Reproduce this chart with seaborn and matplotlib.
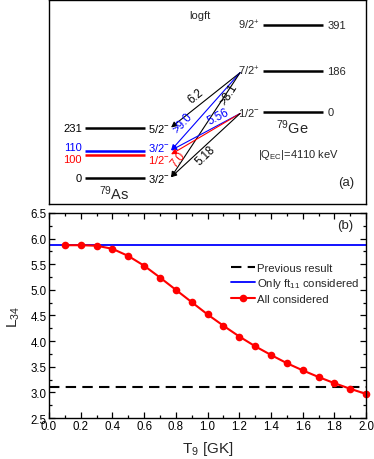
import matplotlib
matplotlib.use("Agg")
import matplotlib.pyplot as plt
from matplotlib.ticker import MultipleLocator
import pandas as pd
import seaborn as sns

# panel (b) data
t9 = [0.1, 0.2, 0.3, 0.4, 0.5, 0.6, 0.7, 0.8, 0.9, 1.0,
      1.1, 1.2, 1.3, 1.4, 1.5, 1.6, 1.7, 1.8, 1.9, 2.0]
l34_all = [5.87, 5.87, 5.86, 5.80, 5.66, 5.47, 5.24, 5.00, 4.76, 4.52,
           4.30, 4.09, 3.90, 3.73, 3.57, 3.43, 3.30, 3.18, 3.07, 2.97]
l34_ft11 = 5.87
l34_prev = 3.10

# panel (a) level scheme (79As daughter, 79Ge parent)
as_energy = [231, 110, 100, 0]
as_spin = [r"5/2$^{-}$", r"3/2$^{-}$", r"1/2$^{-}$", r"3/2$^{-}$"]
as_color = ["black", "blue", "red", "black"]
ge_energy = [391, 186, 0]
ge_spin = [r"9/2$^{+}$", r"7/2$^{+}$", r"1/2$^{-}$"]
# transitions: (parent energy, daughter energy, logft label, colour)
transitions = [
    (186, 231, "6.2", "black"),
    (186, 110, ">9.0", "blue"),
    (186, 0, ">8.1", "black"),
    (0, 110, "5.56", "blue"),
    (0, 100, "7.0", "red"),
    (0, 0, "5.18", "black"),
]

# schematic (not to scale) vertical placement of the levels, in panel pixels
as_ypos = {231: 129, 110: 152, 100: 156, 0: 179}
as_label_shift = {231: 0, 110: -4, 100: 4, 0: 0}
ge_ypos = {391: 25, 186: 71, 0: 112}

sns.set_style("ticks")
plt.rcParams["font.family"] = ["Liberation Sans", "DejaVu Sans"]
plt.rcParams["mathtext.fontset"] = "custom"
plt.rcParams["mathtext.rm"] = "Liberation Sans"
plt.rcParams["mathtext.it"] = "Liberation Sans"

fig = plt.figure(figsize=(3.74, 4.6), dpi=100)

# ---------- panel (a) ----------
ax1 = fig.add_axes([0.131, 0.554, 0.848, 0.444])
ax1.set_xlim(49, 366)
ax1.set_ylim(205, 0)
ax1.set_xticks([])
ax1.set_yticks([])
for s in ax1.spines.values():
    s.set_linewidth(1.0)
    s.set_color("black")

fs = 8
for e, sp, c in zip(as_energy, as_spin, as_color):
    y = as_ypos[e]
    ly = y + as_label_shift[e]
    ax1.plot([85, 145], [y, y], color=c, lw=1.8, solid_capstyle="butt")
    ax1.text(82, ly, str(e), ha="right", va="center", color=c, fontsize=fs)
    ax1.text(148, ly, sp, ha="left", va="center", color=c, fontsize=fs)
for e, sp in zip(ge_energy, ge_spin):
    y = ge_ypos[e]
    ax1.plot([263, 323], [y, y], color="black", lw=1.8, solid_capstyle="butt")
    ax1.text(260, y, sp, ha="right", va="center", fontsize=fs)
    ax1.text(327, y, str(e), ha="left", va="center", fontsize=fs)

label_pos = {
    "6.2": (196, 96, 39),
    ">9.0": (183, 123, 48),
    ">8.1": (229, 94, 58),
    "5.56": (218, 117, 27),
    "7.0": (178, 160, 50),
    "5.18": (205, 156, 44),
}
for pe, de, lab, c in transitions:
    y0 = ge_ypos[pe] + 2
    y1 = as_ypos[de] - 1
    ax1.annotate("", xy=(171, y1), xytext=(240, y0),
                 arrowprops=dict(arrowstyle="-|>", color=c, lw=0.8,
                                 mutation_scale=8, shrinkA=0, shrinkB=0))
    lx, ly, rot = label_pos[lab]
    ax1.text(lx, ly, lab, color=c, fontsize=8.3, rotation=rot,
             ha="center", va="center", rotation_mode="anchor")

ax1.text(200, 15, "logft", ha="center", va="center", fontsize=8)
ax1.text(292, 127, r"$^{79}$Ge", ha="center", va="center", fontsize=10.5)
ax1.text(114, 193, r"$^{79}$As", ha="center", va="center", fontsize=10.5)
ax1.text(298, 155, r"|Q$_{\rm EC}$|=4110 keV", ha="center", va="center", fontsize=8)
ax1.text(346, 183, "(a)", ha="center", va="center", fontsize=9.5)

# ---------- panel (b) ----------
ax2 = fig.add_axes([0.131, 0.089, 0.848, 0.446])
df = pd.DataFrame({"T9": t9, "L34": l34_all})
ax2.axhline(l34_prev, color="black", lw=1.5, ls=(0, (5, 3)), label="Previous result")
ax2.axhline(l34_ft11, color="blue", lw=1.3, label=r"Only ft$_{11}$ considered")
sns.lineplot(data=df, x="T9", y="L34", ax=ax2, color="red", lw=1.5,
             marker="o", markersize=5.5, markeredgewidth=0, label="All considered",
             clip_on=False)

ax2.set_xlim(0, 2.0)
ax2.set_ylim(2.5, 6.5)
ax2.xaxis.set_major_locator(MultipleLocator(0.2))
ax2.xaxis.set_minor_locator(MultipleLocator(0.1))
ax2.yaxis.set_major_locator(MultipleLocator(0.5))
ax2.yaxis.set_minor_locator(MultipleLocator(0.25))
ax2.set_xticks([i / 5 for i in range(11)])
ax2.set_xticklabels(["%.1f" % (i / 5) for i in range(11)])
ax2.tick_params(which="both", direction="in", top=True, right=True,
                labelsize=8.3, width=0.9, colors="black", pad=1.5)
ax2.tick_params(which="major", length=4)
ax2.tick_params(which="minor", length=2.5)
for s in ax2.spines.values():
    s.set_linewidth(1.0)
    s.set_color("black")
ax2.set_xlabel(r"T$_9$ [GK]", fontsize=11, labelpad=5)
ax2.set_ylabel(r"L$_{34}$", fontsize=11, labelpad=6)
ax2.text(1.92, 6.26, "(b)", ha="right", va="center", fontsize=9.5)

ax2.legend(loc="upper right", bbox_to_anchor=(1.0, 0.79), frameon=False,
           fontsize=8.2, handlelength=2.1, handletextpad=0.2, labelspacing=0.3,
           borderaxespad=0.2)

fig.savefig("out.png", dpi=100)
